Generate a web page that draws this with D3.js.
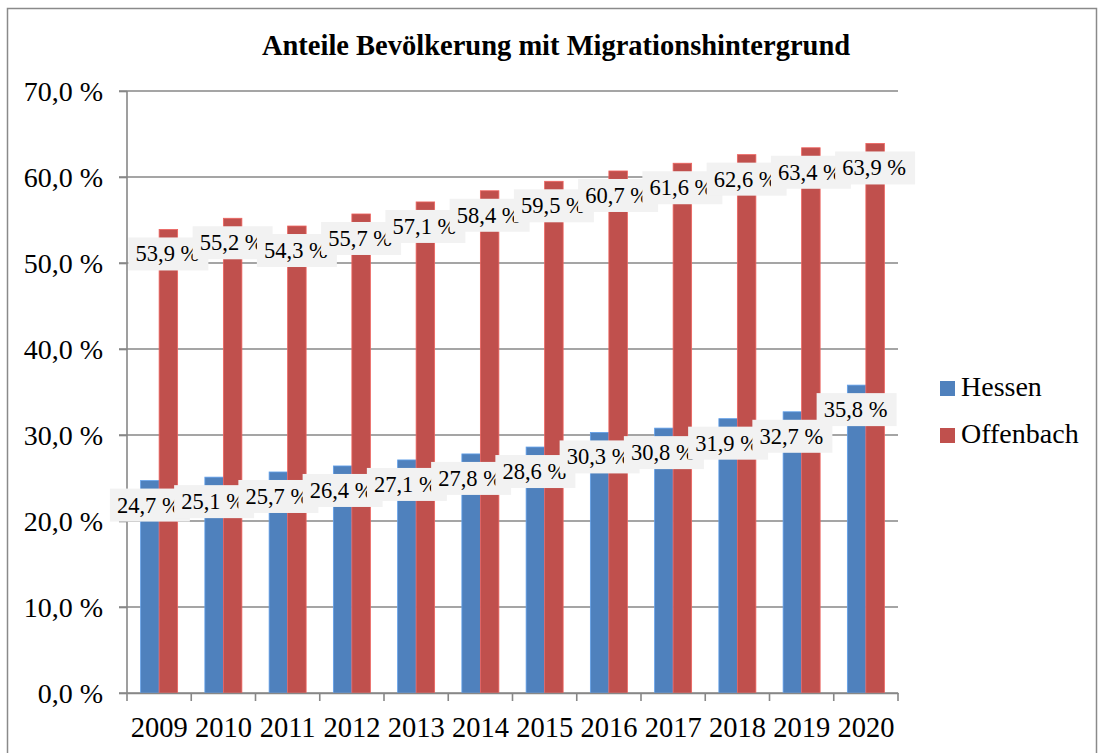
<!DOCTYPE html>
<html>
<head>
<meta charset="utf-8">
<script src="https://d3js.org/d3.v7.min.js"></script>
<style>
  body { margin: 0; background: #fff; }
  text { font-family: "Liberation Serif", "DejaVu Serif", serif; fill: #000; }
</style>
</head>
<body>
<svg width="1099" height="753"></svg>
<script>
var years = ["2009", "2010", "2011", "2012", "2013", "2014", "2015", "2016", "2017", "2018", "2019", "2020"];
var hessen = [24.7, 25.1, 25.7, 26.4, 27.1, 27.8, 28.6, 30.3, 30.8, 31.9, 32.7, 35.8];
var offenbach = [53.9, 55.2, 54.3, 55.7, 57.1, 58.4, 59.5, 60.7, 61.6, 62.6, 63.4, 63.9];
var seriesNames = ["Hessen", "Offenbach"];
var seriesColors = ["#4f81bd", "#c0504d"];
var yTicks = [0, 10, 20, 30, 40, 50, 60, 70];

var svg = d3.select("svg"),
    width = +svg.attr("width"),
    height = +svg.attr("height");

var plot = { left: 127, right: 898, top: 91, bottom: 693 };
var gridColor = "#878787";

function fmt(v) {
    return v.toFixed(1).replace(".", ",") + " %";
}

// chart frame
svg.append("rect")
    .attr("x", 7.5)
    .attr("y", 8.5)
    .attr("width", 1089)
    .attr("height", 800)
    .attr("fill", "#fff")
    .attr("stroke", "#8a8a8a")
    .attr("stroke-width", 1.5);

svg.append("text")
    .attr("x", 556)
    .attr("y", 55)
    .attr("text-anchor", "middle")
    .style("font-size", "28.5px")
    .style("font-weight", "bold")
    .text("Anteile Bevölkerung mit Migrationshintergrund");

var x = d3.scaleBand()
    .domain(years)
    .range([plot.left, plot.right])
    .paddingInner(0.424)
    .paddingOuter(0.212);

var x1 = d3.scaleBand()
    .domain(seriesNames)
    .range([0, x.bandwidth()]);

var y = d3.scaleLinear()
    .domain([0, 70])
    .range([plot.bottom, plot.top]);

// gridlines
svg.append("g")
    .selectAll("line")
    .data(yTicks)
    .enter().append("line")
        .attr("x1", plot.left - 8)
        .attr("x2", plot.right)
        .attr("y1", function(d) { return y(d); })
        .attr("y2", function(d) { return y(d); })
        .attr("stroke", gridColor)
        .attr("stroke-width", 1.6);

var rows = years.map(function(yr, i) {
    return { year: yr, values: [hessen[i], offenbach[i]] };
});

var groups = svg.append("g")
    .selectAll("g")
    .data(rows)
    .enter().append("g")
        .attr("transform", function(d) { return "translate(" + x(d.year) + ",0)"; });

groups.selectAll("rect")
    .data(function(d) { return d.values.map(function(v, j) { return { name: seriesNames[j], value: v, j: j }; }); })
    .enter().append("rect")
        .attr("x", function(d) { return x1(d.name); })
        .attr("y", function(d) { return y(d.value); })
        .attr("width", x1.bandwidth())
        .attr("height", function(d) { return y(0) - y(d.value); })
        .attr("fill", function(d) { return seriesColors[d.j]; })
        .attr("stroke", function(d) { return d3.color(seriesColors[d.j]).brighter(0.6); })
        .attr("stroke-width", 0.8);

// y axis
var yAxis = svg.append("g")
    .attr("transform", "translate(" + plot.left + ",0)")
    .call(d3.axisLeft(y).tickValues(yTicks).tickSize(8).tickFormat(function(d) { return fmt(d); }));
yAxis.select(".domain").attr("stroke", gridColor).attr("stroke-width", 1.6).attr("d", "M0," + plot.top + "V" + plot.bottom);
yAxis.selectAll(".tick line").attr("stroke", gridColor).attr("stroke-width", 1.6);
yAxis.selectAll(".tick text")
    .attr("x", -24)
    .attr("dy", "0.34em")
    .style("font-size", "28px")
    .style("font-family", "Liberation Serif");

// x axis
var xAxis = svg.append("g")
    .attr("transform", "translate(0," + plot.bottom + ")")
    .call(d3.axisBottom(x).tickSize(0).tickSizeOuter(0));
xAxis.select(".domain").attr("stroke", gridColor).attr("stroke-width", 1.6);
xAxis.selectAll(".tick text")
    .attr("y", 44)
    .attr("dy", 0)
    .style("font-size", "28.5px")
    .style("font-family", "Liberation Serif");

var step = x.step();
svg.append("g")
    .selectAll("line")
    .data(d3.range(years.length + 1))
    .enter().append("line")
        .attr("x1", function(i) { return plot.left + i * step; })
        .attr("x2", function(i) { return plot.left + i * step; })
        .attr("y1", plot.bottom)
        .attr("y2", plot.bottom + 8)
        .attr("stroke", gridColor)
        .attr("stroke-width", 1.6);

// data labels, later ones on top
seriesNames.forEach(function(name, j) {
    var vals = j === 0 ? hessen : offenbach;
    var lab = svg.append("g")
        .selectAll("g")
        .data(vals)
        .enter().append("g")
            .attr("transform", function(d, i) {
                var cx = x(years[i]) + x1(name) + x1.bandwidth() / 2;
                return "translate(" + cx + "," + (y(d) + 8) + ")";
            });
    lab.append("rect")
        .attr("x", -40)
        .attr("y", 0)
        .attr("width", 80)
        .attr("height", 33)
        .attr("fill", "#f2f2f2");
    lab.append("text")
        .attr("x", -1)
        .attr("y", 24)
        .attr("text-anchor", "middle")
        .style("font-size", "22.5px")
        .text(function(d) { return fmt(d); });
});

// legend
var legend = svg.append("g")
    .selectAll("g")
    .data(seriesNames)
    .enter().append("g")
        .attr("transform", function(d, i) { return "translate(940," + (381 + i * 47) + ")"; });
legend.append("rect")
    .attr("width", 15)
    .attr("height", 15)
    .attr("fill", function(d, i) { return seriesColors[i]; });
legend.append("text")
    .attr("x", 21)
    .attr("y", 15)
    .style("font-size", "28px")
    .text(function(d) { return d; });
</script>
</body>
</html>
